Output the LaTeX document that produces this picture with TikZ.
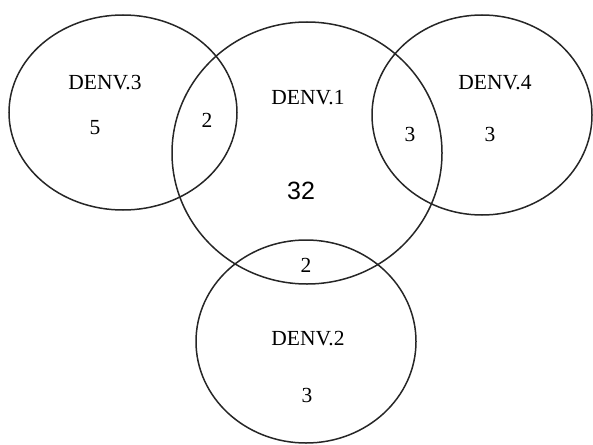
\documentclass[tikz,border=0pt]{standalone}
\usepackage{fontspec}
\setmainfont{Liberation Serif}
\newfontfamily\numsans{Liberation Sans}
\begin{document}
\begin{tikzpicture}[x=1pt,y=-1pt,
  set/.style={draw=black!85,line width=1.5pt},
  lbl/.style={font=\fontsize{21.5}{23}\selectfont,inner sep=0pt}]
\useasboundingbox (0,0) rectangle (593,444);
% the four serotype sets
\draw[set] (123,112.5) ellipse [x radius=114,y radius=97.5];
\draw[set] (307,153) ellipse [x radius=135,y radius=131];
\draw[set] (482,115) ellipse [x radius=110,y radius=100];
\draw[set] (306,341.5) ellipse [x radius=110,y radius=101.5];
% set names
\node[lbl] (n3) at (105,83) {DENV.3};
\node[lbl] (n1) at (308,98) {DENV.1};
\node[lbl] (n4) at (495,83) {DENV.4};
\node[lbl] (n2) at (308,339) {DENV.2};
% counts
\node[lbl] (c3) at (95,128) {5};
\node[lbl] (c13) at (207,120) {2};
\node[lbl,font=\numsans\fontsize{25}{27}\selectfont] (c1) at (301,191) {32};
\node[lbl] (c14) at (410,134) {3};
\node[lbl] (c4) at (490,134) {3};
\node[lbl] (c12) at (306,265) {2};
\node[lbl] (c2) at (307,395) {3};
\end{tikzpicture}
\end{document}
